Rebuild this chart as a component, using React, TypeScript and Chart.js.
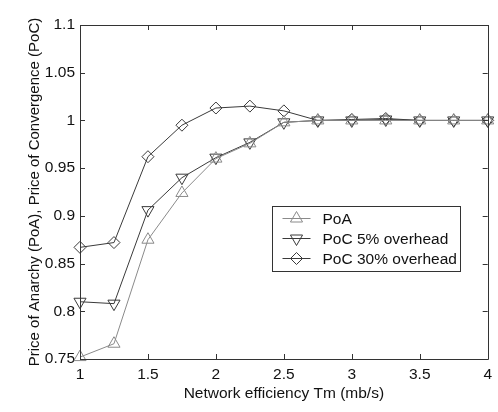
import React, { useEffect, useRef } from "react";
import { Chart, registerables } from "chart.js";

Chart.register(...registerables);

const xValues = [1, 1.25, 1.5, 1.75, 2, 2.25, 2.5, 2.75, 3, 3.25, 3.5, 3.75, 4];
const poa = [0.752, 0.766, 0.875, 0.924, 0.96, 0.976, 0.998, 1.0, 1.0, 1.0, 1.0, 1.0, 1.0];
const poc5 = [0.81, 0.808, 0.906, 0.94, 0.961, 0.977, 0.998, 1.0, 1.0, 1.001, 1.0, 1.0, 1.0];
const poc30 = [0.867, 0.872, 0.962, 0.995, 1.013, 1.015, 1.01, 1.0, 1.001, 1.002, 1.0, 1.0, 1.0];
const seriesNames = ["PoA", "PoC 5% overhead", "PoC 30% overhead"];
const xTitle = "Network efficiency Tm (mb/s)";
const yTitle = "Price of Anarchy (PoA), Price of Convergence (PoC)";

const FONT = "'Liberation Sans', Arial, Helvetica, sans-serif";
const AXIS_COLOR = "#333333";
const TEXT_COLOR = "#111111";

type Marker = { style: string; radius: number; rotation: number };
const markers: Marker[] = [
  { style: "triangle", radius: 7, rotation: 0 },
  { style: "triangle", radius: 7, rotation: 180 },
  { style: "rectRot", radius: 6, rotation: 0 },
];
const colors = ["#8a8a8a", "#3a3a3a", "#3a3a3a"];

const fmt = (v: number) => String(Number(v.toFixed(3)));

function drawMarker(ctx: CanvasRenderingContext2D, m: Marker, x: number, y: number) {
  ctx.beginPath();
  if (m.style === "triangle") {
    let rad = (m.rotation * Math.PI) / 180;
    for (let i = 0; i < 3; i++) {
      const px = x + Math.sin(rad) * m.radius;
      const py = y - Math.cos(rad) * m.radius;
      if (i === 0) ctx.moveTo(px, py);
      else ctx.lineTo(px, py);
      rad += (2 * Math.PI) / 3;
    }
  } else {
    ctx.moveTo(x, y - m.radius);
    ctx.lineTo(x + m.radius, y);
    ctx.lineTo(x, y + m.radius);
    ctx.lineTo(x - m.radius, y);
  }
  ctx.closePath();
  ctx.stroke();
}

const framePlugin = {
  id: "matlabFrame",
  afterDatasetsDraw(chart: any) {
    const { ctx, chartArea } = chart;
    const { left, right, top, bottom } = chartArea;
    const xs = chart.scales.x;
    const ys = chart.scales.y;
    const tl = 5;
    ctx.save();
    ctx.strokeStyle = AXIS_COLOR;
    ctx.lineWidth = 1;
    ctx.beginPath();
    ctx.rect(Math.round(left) + 0.5, Math.round(top) + 0.5, Math.round(right - left), Math.round(bottom - top));
    ctx.stroke();
    ctx.beginPath();
    xs.ticks.forEach((t: any) => {
      const px = Math.round(xs.getPixelForValue(t.value)) + 0.5;
      ctx.moveTo(px, bottom);
      ctx.lineTo(px, bottom - tl);
      ctx.moveTo(px, top);
      ctx.lineTo(px, top + tl);
    });
    ys.ticks.forEach((t: any) => {
      const py = Math.round(ys.getPixelForValue(t.value)) + 0.5;
      ctx.moveTo(left, py);
      ctx.lineTo(left + tl, py);
      ctx.moveTo(right, py);
      ctx.lineTo(right - tl, py);
    });
    ctx.stroke();

    // legend box
    const w = right - left;
    const h = bottom - top;
    const bx = Math.round(left + w * 0.472) + 0.5;
    const by = Math.round(top + h * 0.542) + 0.5;
    const bw = 188;
    const bh = 65;
    ctx.fillStyle = "#ffffff";
    ctx.fillRect(bx, by, bw, bh);
    ctx.strokeStyle = AXIS_COLOR;
    ctx.strokeRect(bx, by, bw, bh);
    ctx.font = `15.5px ${FONT}`;
    ctx.textBaseline = "middle";
    ctx.textAlign = "left";
    seriesNames.forEach((name, i) => {
      const ry = by + 12 + i * 20;
      ctx.strokeStyle = colors[i];
      ctx.beginPath();
      ctx.moveTo(bx + 10, ry);
      ctx.lineTo(bx + 38, ry);
      ctx.stroke();
      drawMarker(ctx, markers[i], bx + 24, ry);
      ctx.fillStyle = TEXT_COLOR;
      ctx.fillText(name, bx + 50, ry + 1);
    });
    ctx.restore();
  },
};

export default function App() {
  const ref = useRef<HTMLCanvasElement | null>(null);
  useEffect(() => {
    document.body.style.margin = "0";
    const series = [poa, poc5, poc30];
    const chart = new Chart(ref.current as HTMLCanvasElement, {
      type: "line",
      data: {
        datasets: series.map((vals, i) => ({
          label: seriesNames[i],
          data: vals.map((v, j) => ({ x: xValues[j], y: v })),
          borderColor: colors[i],
          borderWidth: 1,
          backgroundColor: "rgba(0,0,0,0)",
          pointStyle: markers[i].style as any,
          pointRadius: markers[i].radius,
          pointRotation: markers[i].rotation,
          pointBorderColor: colors[i],
          pointBackgroundColor: "rgba(0,0,0,0)",
          pointBorderWidth: 1,
          tension: 0,
          clip: false as any,
        })),
      },
      options: {
        animation: false,
        responsive: false,
        layout: { padding: { left: 0, top: 25, right: 10, bottom: 0 } },
        plugins: { legend: { display: false }, tooltip: { enabled: false } },
        scales: {
          x: {
            type: "linear",
            min: 1,
            max: 4,
            grid: { display: false, drawTicks: false },
            border: { display: false },
            ticks: {
              stepSize: 0.5,
              padding: 6,
              color: TEXT_COLOR,
              font: { family: FONT, size: 15.5 },
              maxRotation: 0,
              callback: (v: any) => fmt(Number(v)),
            },
            title: { display: true, text: xTitle, color: TEXT_COLOR, font: { family: FONT, size: 15.5 }, padding: { top: 0, bottom: 9 } },
            afterFit: (s: any) => { s.height = 53; },
          },
          y: {
            type: "linear",
            min: 0.75,
            max: 1.1,
            grid: { display: false, drawTicks: false },
            border: { display: false },
            ticks: {
              stepSize: 0.05,
              padding: 5,
              color: TEXT_COLOR,
              font: { family: FONT, size: 15.5 },
              callback: (v: any) => fmt(Number(v)),
            },
            title: { display: true, text: yTitle, color: TEXT_COLOR, font: { family: FONT, size: 15 }, padding: { top: 26, bottom: 0 } },
            afterFit: (s: any) => { s.width = 80; },
          },
        },
      },
      plugins: [framePlugin],
    });
    return () => chart.destroy();
  }, []);
  return (
    <div style={{ position: "absolute", left: 0, top: 0, width: 498, height: 412, background: "#fff" }}>
      <canvas ref={ref} width={498} height={412} />
    </div>
  );
}
